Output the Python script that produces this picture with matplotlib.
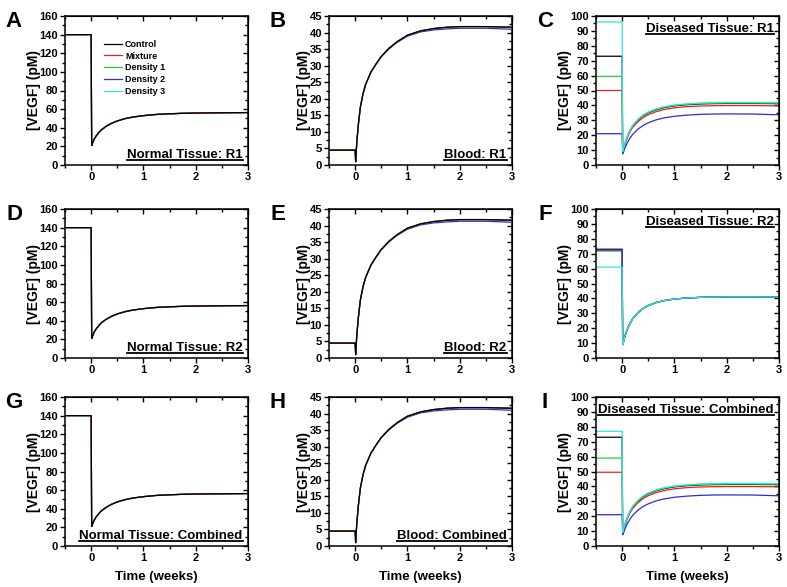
import numpy as np
import matplotlib
matplotlib.use('Agg')
import matplotlib.pyplot as plt
from matplotlib.ticker import MultipleLocator
from matplotlib.lines import Line2D

plt.rcParams['font.family'] = ['Liberation Sans', 'DejaVu Sans']
plt.rcParams['font.weight'] = 'bold'
plt.rcParams['axes.labelweight'] = 'bold'

# series names and colours
series = ['Control', 'Mixture', 'Density 1', 'Density 2', 'Density 3']
colors = ['black', '#e8211f', '#22d42a', '#2a2fd6', '#2fe3e3']

# time (weeks)
t_pre = [-0.5, 0.0]
t_post = [0.01, 0.03, 0.06, 0.1, 0.15, 0.2, 0.3, 0.4, 0.5, 0.65, 0.8,
          1.0, 1.25, 1.5, 1.75, 2.0, 2.5, 3.0]

# normal tissue (all strategies overlap)
normal_pre = 140
normal_tissue = [21, 24, 28, 31.5, 35, 38, 42, 45, 47.3, 49.8, 51.5,
                 53, 54.3, 55, 55.5, 55.8, 56.1, 56.3]

# blood
blood_pre = 4.5
blood = [1, 6.5, 12, 17.5, 21.5, 24.3, 28, 30.5, 32.8, 35.3, 37.2,
         39.2, 40.5, 41.2, 41.6, 41.8, 41.8, 41.6]
blood_d2 = [1, 6.5, 12, 17.5, 21.5, 24.3, 28, 30.5, 32.7, 35.1, 37.0,
            38.9, 40.2, 40.8, 41.1, 41.3, 41.3, 41.0]

# diseased tissue, pre-treatment levels per series
diseased_pre_r1 = [73, 50, 59.5, 21, 96]
diseased_pre_r2 = [73, 72, 72, 72.5, 61]
diseased_pre_comb = [73, 49.5, 59, 21, 77]

# diseased tissue after treatment
dis_ctrl = [8.5, 11, 15, 19, 23, 26, 30, 33, 35, 37, 38.5,
            39.7, 40.5, 41, 41.2, 41.3, 41.3, 41.2]
dis_mix = [8.3, 10.8, 14.6, 18.5, 22.3, 25.2, 29, 31.8, 33.8, 35.8, 37.2,
           38.4, 39.2, 39.6, 39.8, 39.9, 39.9, 39.7]
dis_d1 = [8.5, 11, 15.2, 19.3, 23.3, 26.3, 30.3, 33.3, 35.3, 37.3, 38.8,
          40, 40.8, 41.3, 41.5, 41.6, 41.6, 41.5]
dis_d2 = [7.5, 9, 12, 15, 18, 20.5, 24, 26.5, 28.3, 30.3, 31.6,
          32.7, 33.5, 34, 34.2, 34.3, 34.2, 33.7]
dis_d3 = [9, 11.5, 15.5, 19.5, 23.5, 26.6, 30.6, 33.6, 35.6, 37.6, 39.1,
          40.3, 41.1, 41.6, 41.9, 42, 42, 41.9]
dis_r2 = [9, 11.5, 15.5, 19.5, 23.3, 26.3, 30.3, 33.2, 35.2, 37.2, 38.5,
          39.6, 40.3, 40.7, 40.9, 41, 41, 40.9]

fig = plt.figure(figsize=(7.87, 5.87), dpi=100)
W, H = 787, 587
col_left = [65, 329, 596]
row_top = [16, 209, 397]
aw, ah = 183, 149


def make_ax(r, c):
    x0 = col_left[c] / W
    y0 = 1 - (row_top[r] + ah) / H
    return fig.add_axes([x0, y0, aw / W, ah / H])


def style(ax, ymax, ymaj, ymin, xlabel=False):
    ax.set_xlim(-0.5, 3)
    ax.set_ylim(0, ymax)
    ax.set_xticks([0, 1, 2, 3])
    ax.set_xticks([-0.5, 0.5, 1.5, 2.5], minor=True)
    ax.yaxis.set_major_locator(MultipleLocator(ymaj))
    ax.yaxis.set_minor_locator(MultipleLocator(ymin))
    ax.tick_params(which='both', direction='out', labelsize=8, width=1, pad=1.5)
    ax.tick_params(which='major', length=3.5)
    ax.tick_params(which='minor', length=2)
    for s in ax.spines.values():
        s.set_linewidth(1.1)
    sx = ax.secondary_xaxis('top')
    sx.set_xticks([0, 1, 2, 3], labels=[])
    sx.set_xticks([-0.5, 0.5, 1.5, 2.5], minor=True)
    sx.tick_params(which='both', direction='in', width=1)
    sx.tick_params(which='major', length=3.5)
    sx.tick_params(which='minor', length=2)
    sy = ax.secondary_yaxis('right')
    sy.yaxis.set_major_locator(MultipleLocator(ymaj))
    sy.yaxis.set_minor_locator(MultipleLocator(ymin))
    sy.tick_params(which='both', direction='in', labelright=False, width=1)
    sy.tick_params(which='major', length=3.5)
    sy.tick_params(which='minor', length=2)
    ax.set_ylabel('[VEGF] (pM)', fontsize=10, labelpad=-1)
    if xlabel:
        ax.set_xlabel('Time (weeks)', fontsize=9.5, labelpad=6)


def draw(ax, pre_vals, post_vals, control_on_top=True):
    for i, (name, col, pv, post) in enumerate(zip(series, colors, pre_vals, post_vals)):
        tt = t_pre + t_post
        yy = [pv, pv] + list(post)
        z = 3 - i * 0.1 if control_on_top else 2 + i * 0.1
        ax.plot(tt, yy, color=col, lw=0.9, label=name, zorder=z)


labels_txt = []

# rows: R1, R2, Combined
tags = ['R1', 'R2', 'Combined']
diseased_pre = [diseased_pre_r1, diseased_pre_r2, diseased_pre_comb]
diseased_post = [[dis_ctrl, dis_mix, dis_d1, dis_d2, dis_d3],
                 [dis_r2] * 5,
                 [dis_ctrl, dis_mix, dis_d1, dis_d2, dis_d3]]
letters = ['ABC', 'DEF', 'GHI']

for r in range(3):
    last = r == 2
    ax = make_ax(r, 0)
    draw(ax, [normal_pre] * 5, [normal_tissue] * 5)
    style(ax, 160, 20, 10, last)
    labels_txt.append(ax.text(0.97, 0.03, 'Normal Tissue: ' + tags[r],
                              transform=ax.transAxes, ha='right', va='bottom',
                              fontsize=9.5))
    if r == 0:
        ax.legend(loc='upper left', bbox_to_anchor=(0.19, 0.87), frameon=False,
                  fontsize=6.5, handlelength=2.0, labelspacing=0.3,
                  borderpad=0, handletextpad=0.3)

    ax = make_ax(r, 1)
    draw(ax, [blood_pre] * 5, [blood, blood, blood, blood_d2, blood])
    style(ax, 45, 5, 2.5, last)
    labels_txt.append(ax.text(0.97, 0.03, 'Blood: ' + tags[r],
                              transform=ax.transAxes, ha='right', va='bottom',
                              fontsize=9.5))

    ax = make_ax(r, 2)
    draw(ax, diseased_pre[r], diseased_post[r], control_on_top=False)
    style(ax, 100, 10, 5, last)
    labels_txt.append(ax.text(0.97, 0.955, 'Diseased Tissue: ' + tags[r],
                              transform=ax.transAxes, ha='right', va='top',
                              fontsize=9.5))

    for c in range(3):
        fig.text((col_left[c] - 51) / W, 1 - (row_top[r] - 5) / H,
                 letters[r][c], fontsize=16, fontweight='bold',
                 ha='center', va='top')

# underline the panel captions
fig.canvas.draw()
for t in labels_txt:
    bb = t.get_window_extent()
    ax = t.axes
    inv = ax.transAxes.inverted()
    (x0, y0), (x1, _) = inv.transform([[bb.x0, bb.y0 + 1], [bb.x1, bb.y0]])
    ax.add_line(Line2D([x0, x1], [y0, y0], transform=ax.transAxes,
                       color='black', lw=1.3, clip_on=False))

plt.savefig('out.png', dpi=100)
